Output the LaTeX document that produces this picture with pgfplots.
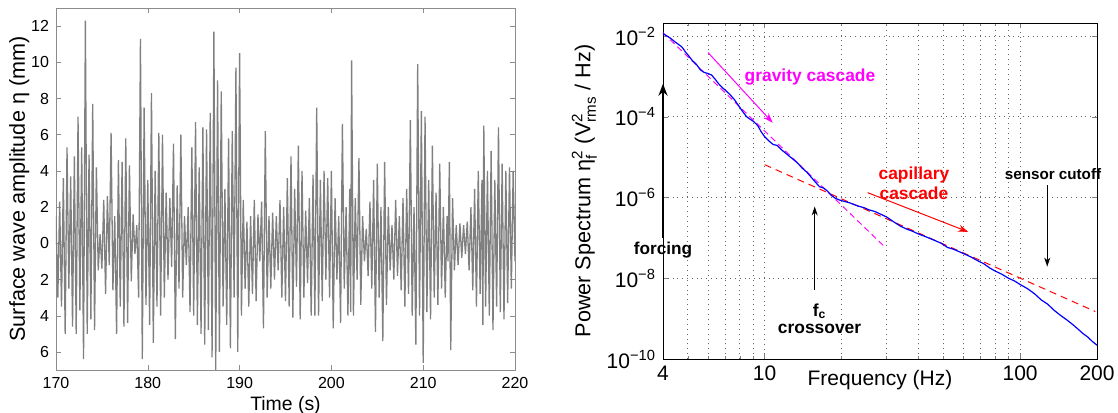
\documentclass[border=0pt]{standalone}
\usepackage{pgfplots}
\pgfplotsset{compat=1.18}
\usepackage{amsmath}
\usepackage{fontspec}
\setmainfont{Liberation Sans}
\usetikzlibrary{arrows.meta}

\definecolor{mag}{RGB}{255,0,255}
\newcommand\tenp[1]{10$^{\text{−#1}}$}

\begin{document}
\begin{tikzpicture}
\path[use as bounding box] (-28pt,-21pt) rectangle (531pt,185pt);

% left: wave amplitude time series
\begin{axis}[
  scale only axis, width=229.5pt, height=181pt,
  xmin=170, xmax=220, ymin=-7, ymax=13,
  xtick={170,180,...,220},
  ytick={-6,-4,...,12}, yticklabels={6,4,2,0,2,4,6,8,10,12},
  tick align=inside, major tick length=2.5pt,
  axis line style={black!45}, tick style={black!45},
  /pgf/number format/assume math mode=true,
  tick label style={font=\fontsize{8}{9}\selectfont},
  xlabel={Time (s)}, ylabel={Surface wave amplitude η (mm)},
  xlabel style={font=\fontsize{9.7}{11}\selectfont, yshift=3pt},
  ylabel style={font=\fontsize{10.8}{12}\selectfont, yshift=-6pt},
]
\addplot[black!50, line width=0.65pt] table[row sep=\\] {
t v\\
170.0 1.5\\ 170.2 -3.0\\ 170.4 2.3\\ 170.6 -3.5\\ 170.8 3.6\\ 171.0 -5.0\\ 171.2 5.3\\ 171.4 -2.5\\ 171.6 3.7\\ 171.8 -4.6\\
172.0 4.8\\ 172.2 -5.0\\ 172.4 7.0\\ 172.6 -3.7\\ 172.8 5.3\\ 173.0 -6.4\\ 173.2 12.3\\ 173.4 -5.0\\ 173.6 4.9\\ 173.8 -4.2\\
174.0 7.7\\ 174.2 -4.8\\ 174.4 4.2\\ 174.6 -1.5\\ 174.8 0.5\\ 175.0 -1.4\\ 175.2 2.4\\ 175.4 -2.8\\ 175.6 2.6\\ 175.8 -1.2\\
176.0 6.1\\ 176.2 -2.6\\ 176.4 1.5\\ 176.6 -5.0\\ 176.8 4.6\\ 177.0 -3.5\\ 177.2 4.5\\ 177.4 -4.6\\ 177.6 5.8\\ 177.8 -4.4\\
178.0 4.3\\ 178.2 -2.1\\ 178.4 1.6\\ 178.6 -0.6\\ 178.8 1.0\\ 179.0 -3.0\\ 179.2 11.3\\ 179.4 -6.4\\ 179.6 7.5\\ 179.8 -3.4\\
180.0 3.5\\ 180.2 -4.5\\ 180.4 8.3\\ 180.6 -5.5\\ 180.8 4.0\\ 181.0 -3.5\\ 181.2 6.1\\ 181.4 -4.0\\ 181.6 6.0\\ 181.8 -3.0\\
182.0 2.8\\ 182.2 -2.0\\ 182.4 2.5\\ 182.6 -1.3\\ 182.8 5.5\\ 183.0 -5.3\\ 183.2 3.2\\ 183.4 -2.5\\ 183.6 6.0\\ 183.8 -3.0\\
184.0 1.5\\ 184.2 -1.2\\ 184.4 2.0\\ 184.6 -3.8\\ 184.8 5.3\\ 185.0 -4.0\\ 185.2 6.7\\ 185.4 -4.5\\ 185.6 4.2\\ 185.8 -5.0\\
186.0 6.4\\ 186.2 -5.6\\ 186.4 6.3\\ 186.6 -4.8\\ 186.8 7.2\\ 187.0 -6.3\\ 187.2 11.7\\ 187.4 -7.0\\ 187.6 9.0\\ 187.8 -6.0\\
188.0 8.4\\ 188.2 -3.5\\ 188.4 3.0\\ 188.6 -4.5\\ 188.8 5.8\\ 189.0 -5.8\\ 189.2 6.2\\ 189.4 -3.0\\ 189.6 9.7\\ 189.8 -6.0\\
190.0 10.5\\ 190.2 -4.0\\ 190.4 2.4\\ 190.6 -2.5\\ 190.8 1.2\\ 191.0 -3.5\\ 191.2 1.5\\ 191.4 -2.8\\ 191.6 2.4\\ 191.8 -3.2\\
192.0 1.6\\ 192.2 -1.0\\ 192.4 2.3\\ 192.6 -4.7\\ 192.8 6.2\\ 193.0 -3.0\\ 193.2 1.5\\ 193.4 -2.5\\ 193.6 1.7\\ 193.8 -2.0\\
194.0 1.5\\ 194.2 -1.5\\ 194.4 2.4\\ 194.6 -3.0\\ 194.8 2.0\\ 195.0 -3.2\\ 195.2 3.6\\ 195.4 -3.5\\ 195.6 4.8\\ 195.8 -4.1\\
196.0 3.0\\ 196.2 -2.4\\ 196.4 5.4\\ 196.6 -4.2\\ 196.8 4.0\\ 197.0 -3.0\\ 197.2 1.8\\ 197.4 -2.2\\ 197.6 2.5\\ 197.8 -4.0\\
198.0 3.8\\ 198.2 -4.0\\ 198.4 7.5\\ 198.6 -4.0\\ 198.8 3.5\\ 199.0 -3.2\\ 199.2 4.0\\ 199.4 -2.0\\ 199.6 3.6\\ 199.8 -3.0\\
200.0 4.0\\ 200.2 -4.7\\ 200.4 2.5\\ 200.6 -2.0\\ 200.8 1.5\\ 201.0 -4.4\\ 201.2 6.6\\ 201.4 -2.5\\ 201.6 2.0\\ 201.8 -4.0\\
202.0 3.0\\ 202.1 -3.8\\ 202.2 10.1\\ 202.4 -4.0\\ 202.6 2.5\\ 202.8 -2.0\\ 203.0 4.7\\ 203.2 -3.4\\ 203.4 1.5\\ 203.6 -1.0\\ 203.8 0.8\\
204.0 -1.8\\ 204.2 2.3\\ 204.4 -2.5\\ 204.6 3.5\\ 204.8 -4.9\\ 205.0 4.4\\ 205.2 -3.0\\ 205.4 2.0\\ 205.6 -5.4\\ 205.8 4.5\\
206.0 -3.4\\ 206.2 2.0\\ 206.4 -1.5\\ 206.6 1.0\\ 206.8 -2.0\\ 207.0 2.4\\ 207.2 -1.8\\ 207.4 1.5\\ 207.6 -2.6\\ 207.8 2.5\\
208.0 -3.5\\ 208.2 3.0\\ 208.4 -2.8\\ 208.6 6.8\\ 208.8 -4.0\\ 209.0 2.0\\ 209.2 -5.6\\ 209.4 9.9\\ 209.6 -4.0\\ 209.8 7.3\\
210.0 -6.6\\ 210.2 7.0\\ 210.4 -3.8\\ 210.6 3.5\\ 210.8 -4.2\\ 211.0 5.4\\ 211.2 -3.0\\ 211.4 2.8\\ 211.6 -3.4\\ 211.8 4.4\\
212.0 -2.5\\ 212.2 2.0\\ 212.4 -3.0\\ 212.6 1.5\\ 212.7 -1.0\\ 212.85 4.5\\ 213.0 -5.9\\ 213.2 2.5\\ 213.4 -1.5\\ 213.6 1.0\\ 213.8 -1.2\\
214.0 1.1\\ 214.2 -0.8\\ 214.4 1.0\\ 214.6 -0.6\\ 214.8 1.2\\ 215.0 -1.5\\ 215.2 2.0\\ 215.4 -2.6\\ 215.6 3.0\\ 215.8 -3.5\\
216.0 4.0\\ 216.2 -2.8\\ 216.4 3.5\\ 216.5 -4.5\\ 216.6 6.5\\ 216.8 -3.5\\ 217.0 4.0\\ 217.2 -4.0\\ 217.4 5.1\\ 217.6 -4.8\\ 217.8 3.5\\
218.0 -3.5\\ 218.2 6.4\\ 218.4 -3.8\\ 218.6 4.4\\ 218.8 -4.2\\ 219.0 4.0\\ 219.2 -3.3\\ 219.4 4.2\\ 219.6 -2.5\\ 219.8 4.0\\
220.0 -1.0\\
};
\end{axis}

% right: power spectrum
\begin{axis}[
  at={(303.5pt,5.5pt)},
  scale only axis, width=217pt, height=168pt,
  xmode=log, ymode=log,
  xmin=4, xmax=200, ymin=1e-10, ymax=2.1e-2,
  xtick={4,10,100,200}, xticklabels={4,10,100,200},
  minor xtick={5,6,7,8,9,20,30,40,50,60,70,80,90},
  ytick={1e-10,1e-8,1e-6,1e-4,1e-2},
  yticklabels={\tenp{10},\tenp{8},\tenp{6},\tenp{4},\tenp{2}},
  yminorticks=false,
  xmajorgrids, xminorgrids, ymajorgrids,
  grid style={dotted, black!60, line width=0.45pt},
  minor grid style={dotted, black!60, line width=0.45pt},
  tick align=inside, major tick length=2.5pt, minor tick length=1.5pt,
  tick label style={font=\fontsize{10.5}{12}\selectfont},
  xlabel={Frequency (Hz)},
  ylabel={Power Spectrum η$^{\text{2}}_{\text{f}}$ (V$^{\text{2}}_{\text{rms}}$ / Hz)},
  xlabel style={font=\fontsize{10.5}{12}\selectfont, at={(axis description cs:0.5,0)}, anchor=north, yshift=-2pt},
  ylabel style={font=\fontsize{10.8}{12}\selectfont, yshift=-2pt},
  clip=false,
]
\addplot[mag, dash pattern=on 3pt off 2pt, line width=0.5pt] coordinates {(4,1.2e-2) (29.5,6.0e-8)};
\addplot[red, dash pattern=on 3.5pt off 2.5pt, line width=0.5pt] coordinates {(10,6.5e-6) (197,1.5e-9)};
\addplot[blue, line width=0.6pt] table[row sep=\\] {
f p\\
4.00 1.15e-2\\ 4.15 1.0e-2\\ 4.30 8.6e-3\\ 4.45 7.2e-3\\ 4.60 6.2e-3\\ 4.75 5.3e-3\\ 4.90 4.0e-3\\ 5.05 3.2e-3\\
5.20 2.5e-3\\ 5.40 2.0e-3\\ 5.60 1.45e-3\\ 5.80 1.25e-3\\ 6.00 1.18e-3\\ 6.20 1.08e-3\\ 6.40 8.5e-4\\ 6.60 6.6e-4\\
6.80 5.4e-4\\ 7.00 4.6e-4\\ 7.30 3.6e-4\\ 7.60 2.7e-4\\ 7.90 1.9e-4\\ 8.20 1.35e-4\\ 8.50 1.0e-4\\ 8.80 8.6e-5\\
9.10 7.4e-5\\ 9.40 6.0e-5\\ 9.70 4.2e-5\\ 10.0 3.2e-5\\ 10.4 2.5e-5\\ 10.8 2.05e-5\\ 11.2 1.95e-5\\ 11.6 1.55e-5\\
12.0 1.3e-5\\ 12.5 1.05e-5\\ 13.0 8.6e-6\\ 13.5 7.0e-6\\ 14.0 5.4e-6\\ 14.6 4.3e-6\\ 15.2 3.2e-6\\ 15.8 2.4e-6\\
16.4 1.85e-6\\ 17.0 1.72e-6\\ 17.6 1.45e-6\\ 18.2 1.15e-6\\ 18.8 9.8e-7\\ 19.5 8.8e-7\\ 20.5 8.0e-7\\ 21.5 7.4e-7\\
22.5 6.6e-7\\ 23.5 6.0e-7\\ 24.5 5.6e-7\\ 25.5 5.0e-7\\ 27.0 4.5e-7\\ 28.5 3.85e-7\\ 30.0 3.3e-7\\ 32.0 2.5e-7\\
34.0 1.95e-7\\ 36.0 1.65e-7\\ 38.0 1.45e-7\\ 40.0 1.25e-7\\ 43.0 1.05e-7\\ 46.0 8.8e-8\\ 49.0 7.4e-8\\ 52.0 5.8e-8\\
55.0 5.2e-8\\ 58.0 4.5e-8\\ 61.0 3.9e-8\\ 64.0 3.4e-8\\ 68.0 2.75e-8\\ 72.0 2.3e-8\\ 76.0 1.8e-8\\ 80.0 1.5e-8\\
85.0 1.25e-8\\ 90.0 1.0e-8\\ 95.0 8.6e-9\\ 100 7.0e-9\\ 107 5.5e-9\\ 114 4.1e-9\\ 121 2.9e-9\\ 128 2.3e-9\\
136 1.6e-9\\ 144 1.2e-9\\ 152 9.4e-10\\ 160 7.3e-10\\ 168 5.6e-10\\ 176 4.3e-10\\ 184 3.5e-10\\ 192 2.7e-10\\
200 2.2e-10\\
};
% annotations
\draw[mag, line width=0.5pt, -{Stealth[length=5pt,width=3.5pt]}] (axis cs:6.0,3.9e-3) -- (axis cs:10.75,7.1e-5);
\node[mag, anchor=west, font=\fontsize{8.7}{10}\selectfont\bfseries] at (axis cs:7.84,9.8e-4) {gravity cascade};
\draw[red, line width=0.5pt, -{Stealth[length=5pt,width=3.5pt]}] (axis cs:25.3,1.32e-6) -- (axis cs:62.6,1.41e-7);
\node[red, align=center, font=\fontsize{8.7}{10}\selectfont\bfseries] at (axis cs:38.4,2.3e-6) {capillary\\cascade};
\node[font=\fontsize{7.6}{9}\selectfont\bfseries] at (axis cs:134.5,3.9e-6) {sensor cutoff};
\draw[black, line width=0.45pt, -{Stealth[length=4.5pt,width=3pt]}] (axis cs:127.7,2.0e-6) -- (axis cs:127.7,1.95e-8);
\draw[black, line width=0.45pt, -{Stealth[length=4.5pt,width=3pt]}] (axis cs:15.7,5.2e-9) -- (axis cs:15.7,6.0e-7);
\node[align=center, font=\fontsize{8.7}{8.5}\selectfont\bfseries] at (axis cs:16.4,1.0e-9) {f$_{\text{\bfseries c}}$\\crossover};
\draw[black, line width=1.1pt, -{Stealth[length=6pt,width=4.5pt]}] (axis cs:4,1.0e-7) -- (axis cs:4,6.6e-4);
\node[font=\fontsize{8.6}{10}\selectfont\bfseries] at (axis cs:4,5.0e-8) {forcing};
\end{axis}
\end{tikzpicture}
\end{document}
